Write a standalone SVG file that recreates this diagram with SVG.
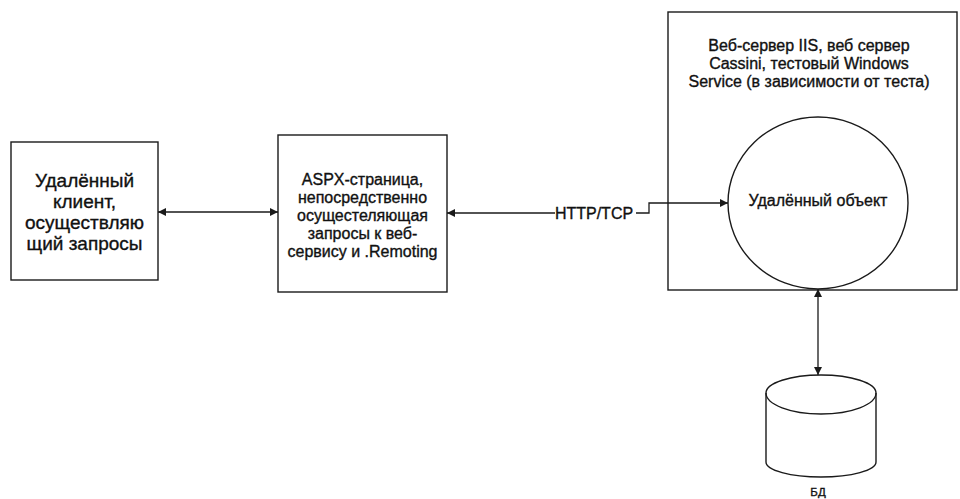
<svg xmlns="http://www.w3.org/2000/svg" width="960" height="499" viewBox="0 0 960 499">
  <defs>
    <marker id="arrow" viewBox="0 0 10 10" refX="10" refY="5" markerWidth="9" markerHeight="8" markerUnits="userSpaceOnUse" orient="auto-start-reverse">
      <path d="M0,0 L10,5 L0,10 Z" fill="#1a1a1a"/>
    </marker>
  </defs>
  <style>
    .box { fill: #ffffff; stroke: #1a1a1a; stroke-width: 1.4; }
    .line { fill: none; stroke: #1a1a1a; stroke-width: 1.3; }
    text { font-family: "Liberation Sans", Arial, sans-serif; fill: #111111; stroke: #111111; stroke-width: 0.35; text-anchor: middle; }
    .big { font-size: 19px; }
    .mid { font-size: 16px; }
    .small { font-size: 11.5px; }
  </style>
  <rect width="960" height="499" fill="#ffffff"/>

  <!-- web server container -->
  <g id="server">
    <rect class="box" x="668" y="12" width="289" height="278"/>
    <text class="mid" x="809" y="51">Веб-сервер IIS, веб сервер</text>
    <text class="mid" x="809" y="69">Cassini, тестовый Windows</text>
    <text class="mid" x="809" y="87">Service (в зависимости от теста)</text>
  </g>

  <!-- remote client -->
  <g id="client">
    <rect class="box" x="11" y="142" width="147" height="138"/>
    <text class="big" x="84.5" y="187">Удалённый</text>
    <text class="big" x="84.5" y="208">клиент,</text>
    <text class="big" x="84.5" y="229">осуществляю</text>
    <text class="big" x="84.5" y="250">щий запросы</text>
  </g>

  <!-- ASPX page -->
  <g id="aspx">
    <rect class="box" x="278" y="135" width="169" height="157"/>
    <text class="mid" x="362.5" y="185">ASPX-страница,</text>
    <text class="mid" x="362.5" y="203">непосредственно</text>
    <text class="mid" x="362.5" y="221">осущестеляющая</text>
    <text class="mid" x="362.5" y="239">запросы к веб-</text>
    <text class="mid" x="362.5" y="257">сервису и .Remoting</text>
  </g>

  <!-- remote object -->
  <g id="remote-object">
    <ellipse class="box" cx="818" cy="203" rx="90" ry="86"/>
    <text class="mid" x="818" y="206">Удалённый объект</text>
  </g>

  <!-- database -->
  <g id="db">
    <path class="box" d="M766,393 L766,462 A55,15 0 0 0 876,462 L876,393 A55,18 0 0 0 766,393 Z"/>
    <path class="line" d="M766,393 A55,21 0 0 0 876,393"/>
    <text class="small" x="818" y="496">БД</text>
  </g>

  <!-- connectors -->
  <g id="connectors">
    <line class="line" x1="158" y1="212" x2="278" y2="212" marker-start="url(#arrow)" marker-end="url(#arrow)"/>
    <line class="line" x1="555" y1="213" x2="447" y2="213" marker-end="url(#arrow)"/>
    <text class="mid" x="594" y="219">HTTP/TCP</text>
    <path class="line" d="M636,213 L649,213 L649,203 L728,203" marker-end="url(#arrow)"/>
    <line class="line" x1="818" y1="289" x2="818" y2="375" marker-start="url(#arrow)" marker-end="url(#arrow)"/>
  </g>
</svg>
